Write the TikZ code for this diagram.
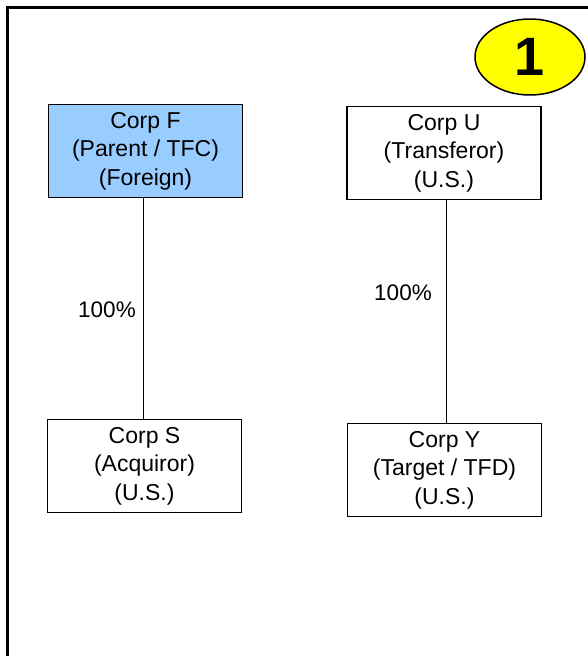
\documentclass[tikz,border=0pt]{standalone}
\usepackage{fontspec}
\setmainfont{Liberation Sans}
\usetikzlibrary{shapes.geometric}

\definecolor{parentblue}{HTML}{99CCFF}
\definecolor{stepyellow}{HTML}{FFFF00}

\tikzset{
  corp/.style={rectangle, draw, line width=1.2pt, minimum width=194pt, minimum height=93pt,
    align=center, inner sep=0pt, font=\fontsize{23}{28.5}\selectfont},
  pct/.style={font=\fontsize{22.5}{25}\selectfont, inner sep=0pt}
}

\begin{document}
\begin{tikzpicture}[x=1pt, y=-1pt]
    \clip (0,0) rectangle (588,656);
    \fill[white] (0,0) rectangle (588,656);
    \draw[line width=3pt] (7.5,7) rectangle (620,690);

    \node[ellipse, draw, line width=1.5pt, fill=stepyellow, minimum width=110pt, minimum height=76pt,
      font=\bfseries\fontsize{54}{54}\selectfont] (one) at (530,57) {1};

    \node[corp, fill=parentblue] (f) at (145.5,151) {Corp F\\(Parent / TFC)\\(Foreign)};
    \node[corp] (u) at (444,153) {Corp U\\(Transferor)\\(U.S.)};
    \node[corp] (s) at (144.5,466) {Corp S\\(Acquiror)\\(U.S.)};
    \node[corp] (y) at (444.5,470) {Corp Y\\(Target / TFD)\\(U.S.)};

    \draw[line width=1.1pt] ([xshift=-2pt]f.south) -- ([xshift=-2pt]f.south |- s.north);
    \draw[line width=1.1pt] ([xshift=2.5pt]u.south) -- ([xshift=2.5pt]u.south |- y.north);

    \node[pct] (fs) at (107,310) {100\%};
    \node[pct] (uy) at (403,293) {100\%};
  \end{tikzpicture}
\end{document}
